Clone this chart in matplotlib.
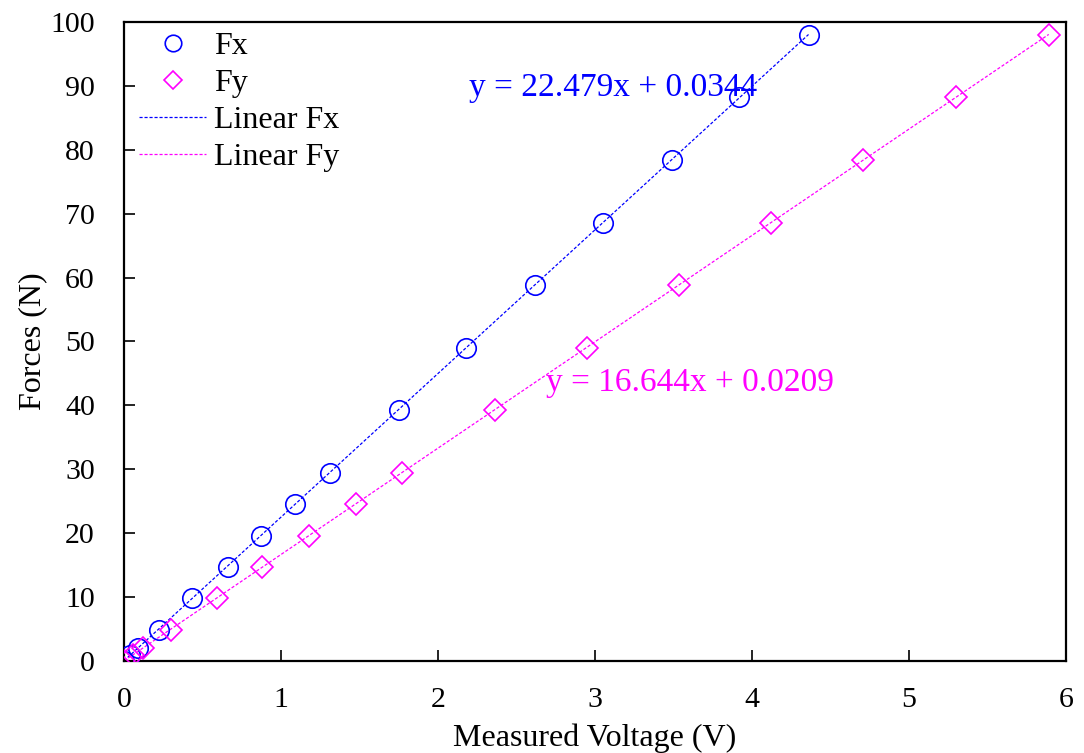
import numpy as np
import matplotlib
matplotlib.use("Agg")
import matplotlib.pyplot as plt

plt.rcParams['font.family'] = ['Liberation Serif', 'DejaVu Serif']

# measured voltage (V) and applied force (N)
fx_volt = [0.0, 0.04, 0.09, 0.22, 0.43, 0.66, 0.87, 1.09, 1.31, 1.75, 2.18, 2.62, 3.05, 3.49, 3.92, 4.36]
fx_force = [0.0, 0.98, 1.96, 4.9, 9.8, 14.7, 19.6, 24.5, 29.4, 39.2, 49.0, 58.8, 68.6, 78.4, 88.2, 98.0]
fy_volt = [0.0, 0.06, 0.12, 0.30, 0.59, 0.88, 1.18, 1.48, 1.77, 2.36, 2.95, 3.535, 4.12, 4.71, 5.30, 5.89]
fy_force = [0.0, 0.98, 1.96, 4.9, 9.8, 14.7, 19.6, 24.5, 29.4, 39.2, 49.0, 58.8, 68.6, 78.4, 88.2, 98.0]

# trendline coefficients shown on the chart
fx_fit = (22.479, 0.0344)
fy_fit = (16.644, 0.0209)

blue = '#0000ff'
pink = '#ff00ff'

fig = plt.figure(figsize=(10.84, 7.53), dpi=100)
ax = fig.add_axes([0.1144, 0.1222, 0.869, 0.8486])

ax.plot(fx_volt, fx_force, 'o', mfc='none', mec=blue, mew=1.2, ms=14, label='Fx', zorder=3)
ax.plot(fy_volt, fy_force, 'D', mfc='none', mec=pink, mew=1.2, ms=11, label='Fy', zorder=3)

xs = np.array([min(fx_volt), max(fx_volt)])
ax.plot(xs, fx_fit[0] * xs + fx_fit[1], color=blue, lw=0.9, ls=(0, (2.5, 1.5)), label='Linear Fx')
xs = np.array([min(fy_volt), max(fy_volt)])
ax.plot(xs, fy_fit[0] * xs + fy_fit[1], color=pink, lw=0.9, ls=(0, (2.5, 1.5)), label='Linear Fy')

ax.text(2.2, 89.7, 'y = %.3fx + %.4f' % fx_fit, color=blue, fontsize=24, va='center')
ax.text(2.69, 43.5, 'y = %.3fx + %.4f' % fy_fit, color=pink, fontsize=24, va='center')

ax.set_xlim(0, 6)
ax.set_ylim(0, 100)
ax.set_xticks(range(0, 7))
ax.set_yticks(range(0, 101, 10))
ax.tick_params(direction='in', length=8, width=1.2, labelsize=21.5)
ax.tick_params(axis='x', pad=19)
ax.tick_params(axis='y', pad=21)
for s in ax.spines.values():
    s.set_linewidth(1.6)

ax.set_xlabel('Measured Voltage (V)', fontsize=23, labelpad=7)
ax.set_ylabel('Forces (N)', fontsize=23, labelpad=2)

leg = ax.legend(loc='upper left', frameon=False, fontsize=23, handlelength=2.1,
                handletextpad=0.25, labelspacing=0.24, borderaxespad=0.0,
                markerscale=0.85, bbox_to_anchor=(0.0025, 1.005))

fig.savefig('out.png', dpi=100)
